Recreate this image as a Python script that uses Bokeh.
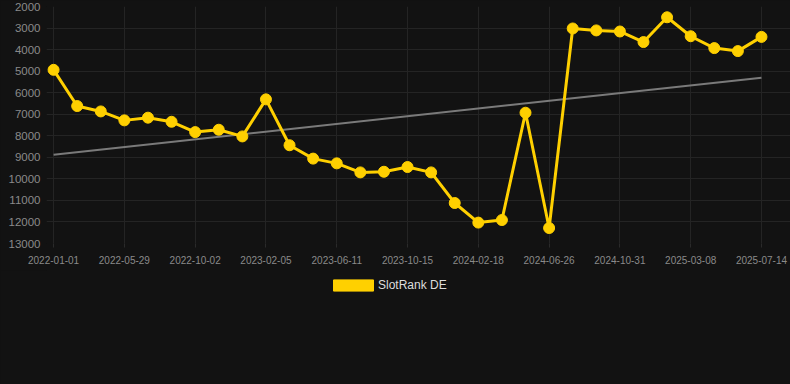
import numpy as np
from bokeh.plotting import figure
from bokeh.layouts import column
from bokeh.models import Range1d, FixedTicker, SingleIntervalTicker, Legend, LegendItem, ColumnDataSource
from bokeh.embed import file_html
from bokeh.resources import INLINE

# Tick labels shown on the x axis (every third observation)
tick_labels = ["2022-01-01", "2022-05-29", "2022-10-02", "2023-02-05", "2023-06-11",
               "2023-10-15", "2024-02-18", "2024-06-26", "2024-10-31", "2025-03-08",
               "2025-07-14"]

# SlotRank DE values (lower = better, axis inverted)
rank = [4940, 6620, 6870, 7285, 7160, 7350, 7830, 7720, 8030, 6310,
        8440, 9060, 9280, 9700, 9670, 9450, 9700, 11120, 12030, 11910,
        6930, 12280, 3020, 3110, 3160, 3650, 2500, 3380, 3930, 4070,
        3410]

series_name = "SlotRank DE"
yellow = "#FFD000"
bg = "#121212"

idx = np.arange(len(rank))
coef = np.polyfit(idx, np.array(rank, dtype=float), 1)
trend = np.polyval(coef, idx)

src = ColumnDataSource(dict(x=idx, y=rank))
tsrc = ColumnDataSource(dict(x=[idx[0], idx[-1]], y=[trend[0], trend[-1]]))

p = figure(width=790, height=270, output_backend="svg", toolbar_location=None,
           x_range=Range1d(-0.3, 31.23), y_range=Range1d(13000, 2000),
           min_border_left=46, min_border_right=0, min_border_top=6, min_border_bottom=27,
           background_fill_color=bg, border_fill_color=bg, outline_line_color=None)

# axes
tick_pos = list(range(0, len(rank), 3))
p.xaxis.ticker = FixedTicker(ticks=tick_pos)
p.xaxis.major_label_overrides = {t: lab for t, lab in zip(tick_pos, tick_labels)}
p.yaxis.ticker = SingleIntervalTicker(interval=1000)
for ax in (p.xaxis, p.yaxis):
    ax.axis_line_color = None
    ax.minor_tick_line_color = None
    ax.major_label_text_color = "#8a8a8a"
    ax.major_label_text_font = "Liberation Sans"
p.xaxis.major_label_text_font_size = "10px"
p.yaxis.major_label_text_font_size = "11.5px"
p.xaxis.major_tick_line_color = "#2a2a2a"
p.xaxis.major_tick_out = 4
p.xaxis.major_tick_in = 0
p.xaxis.major_label_standoff = 8
p.yaxis.major_tick_line_color = None
p.yaxis.major_tick_out = 0
p.yaxis.major_tick_in = 0
p.yaxis.major_label_standoff = 2
p.xgrid.grid_line_color = "#242424"
p.ygrid.grid_line_color = "#242424"

p.line("x", "y", source=tsrc, line_color="#7a7a7a", line_width=2)
p.line("x", "y", source=src, line_color=yellow, line_width=3)
p.scatter("x", "y", source=src, size=11, fill_color=yellow, line_color=yellow)

# legend strip below the chart
lg = figure(width=790, height=114, output_backend="svg", toolbar_location=None,
            x_axis_type=None, y_axis_type=None, min_border=0,
            x_range=Range1d(0, 1), y_range=Range1d(0, 1),
            background_fill_color=bg, border_fill_color=bg, outline_line_color=None)
lg.grid.visible = False
swatch = ColumnDataSource(dict(left=[np.nan], right=[np.nan], top=[np.nan], bottom=[np.nan]))
qr = lg.quad(left="left", right="right", top="top", bottom="bottom", source=swatch,
             fill_color=yellow, line_color=yellow)
legend = Legend(items=[LegendItem(label=series_name, renderers=[qr])],
                location=(278, 88), orientation="horizontal",
                glyph_width=50, glyph_height=14, label_standoff=0,
                label_text_color="#dddddd", label_text_font="Liberation Sans",
                label_text_font_size="12px",
                background_fill_alpha=0, border_line_alpha=0,
                margin=0, padding=4)
lg.add_layout(legend, "center")

layout = column(p, lg, spacing=0)
html = file_html(layout, INLINE)
html = html.replace("</head>", "<style>html,body{background:#121212;}</style></head>", 1)
open("out.html", "w").write(html)
